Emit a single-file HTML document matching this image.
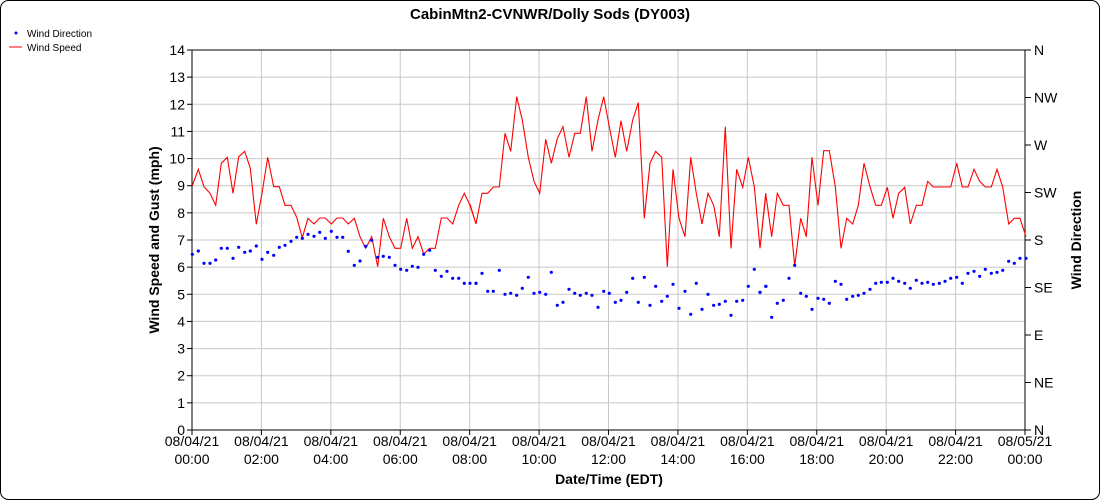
<!DOCTYPE html>
<html><head><meta charset="utf-8"><style>
body{margin:0;background:#fff;}
svg{display:block;font-family:"Liberation Sans",sans-serif;}
</style></head><body>
<svg id="c" width="1100" height="500" xmlns="http://www.w3.org/2000/svg">
<rect x="0.5" y="0.5" width="1099" height="499" rx="8" fill="#fff" stroke="#000"/>
<text x="550" y="19" font-size="15" font-weight="bold" text-anchor="middle">CabinMtn2-CVNWR/Dolly Sods (DY003)</text>
<circle cx="16" cy="33" r="1.5" fill="#00f"/>
<text x="27" y="37" font-size="10">Wind Direction</text>
<line x1="9" y1="47" x2="22" y2="47" stroke="red"/>
<text x="27" y="51" font-size="10">Wind Speed</text>
<g id="grid"></g>
<rect x="192" y="50" width="833" height="380" fill="none" stroke="#000"/>
<polyline id="red" fill="none" stroke="red" stroke-width="1.1"/>
<g id="blue" fill="#00f"></g>
<g id="labels" font-size="14"></g>
<text transform="translate(159,240) rotate(-90)" font-size="14" font-weight="bold" text-anchor="middle">Wind Speed and Gust (mph)</text>
<text transform="translate(1081,240) rotate(-90)" font-size="14" font-weight="bold" text-anchor="middle">Wind Direction</text>
<text x="609" y="484" font-size="14" font-weight="bold" text-anchor="middle">Date/Time (EDT)</text>
</svg>
<script>
var NS="http://www.w3.org/2000/svg";
function el(t,a,p,txt){var e=document.createElementNS(NS,t);for(var k in a)e.setAttribute(k,a[k]);if(txt!=null)e.textContent=txt;document.getElementById(p).appendChild(e);return e;}
var L=192,R=1025,T=50,B=430;
for(var i=0;i<=14;i++){var y=B-i*(380/14);
 if(i>0&&i<14)el('line',{x1:L,x2:R,y1:y,y2:y,stroke:'#c8c8c8'},'grid');
 el('line',{x1:L-5,x2:L,y1:y,y2:y,stroke:'#000'},'grid');
 el('text',{x:L-7,y:y+5,'text-anchor':'end'},'labels',String(i));}
var dirs=['N','NE','E','SE','S','SW','W','NW','N'];
for(var i=0;i<=8;i++){var y=B-i*47.5;
 el('line',{x1:R,x2:R+6,y1:y,y2:y,stroke:'#000'},'grid');
 el('text',{x:R+9,y:y+5},'labels',dirs[i]);}
var times=['00:00','02:00','04:00','06:00','08:00','10:00','12:00','14:00','16:00','18:00','20:00','22:00','00:00'];
for(var i=0;i<=12;i++){var x=L+i*(833/12);
 if(i>0&&i<12)el('line',{x1:x,x2:x,y1:T,y2:B,stroke:'#c8c8c8'},'grid');
 el('line',{x1:x,x2:x,y1:B,y2:B+5,stroke:'#000'},'grid');
 el('text',{x:x,y:446,'text-anchor':'middle'},'labels',i==12?'08/05/21':'08/04/21');
 el('text',{x:x,y:464,'text-anchor':'middle'},'labels',times[i]);}
var r1=[[37,437],[55,388],[72,440],[90,460],[107,496],[124,370],[142,352],[159,460],[176,350],[194,334],[211,385],[229,553],[246,460],[263,352],[281,440],[298,440],[315,496],[333,496],[350,532],[367,593],[384,535],[402,552],[419,534],[436,534],[454,552],[471,534],[488,534],[505,552],[523,535],[540,590],[557,625],[575,590],[593,680],[610,535],[628,590],[645,625],[662,625],[680,535],[697,625],[714,590],[731,642],[749,625],[766,625],[784,534],[801,534],[818,552],[836,496],[853,460],[870,496],[888,552]];
var r2=[[0,492],[18,552],[36,460],[53,460],[70,441],[88,441],[105,280],[122,334],[140,170],[157,240],[175,352],[192,424],[209,460],[227,298],[244,370],[262,296],[279,260],[297,352],[314,280],[331,280],[349,170],[366,334],[384,240],[401,170],[418,260],[436,352],[453,242],[470,334],[488,240],[505,188],[523,535],[540,370],[557,334],[575,352],[592,680],[609,388],[627,535],[645,590],[662,352],[679,460],[696,552],[714,460],[731,496],[748,590],[766,260],[783,625],[800,388],[818,442],[835,352],[853,440],[870,625],[888,460]];
var r3=[[0,625],[17,460],[35,590],[52,460],[70,496],[87,496],[104,678],[122,535],[139,590],[156,352],[174,496],[191,332],[208,332],[226,440],[243,625],[260,535],[278,552],[295,496],[312,370],[330,440],[347,496],[364,496],[382,442],[399,535],[416,460],[434,442],[451,552],[469,496],[486,496],[503,424],[520,441],[538,441],[555,441],[572,441],[590,370],[607,441],[624,441],[642,388],[659,424],[676,441],[694,441],[711,388],[728,441],[746,552],[763,535],[780,535],[798,590]];
var b1=[[37,643],[55,633],[72,670],[90,670],[107,660],[124,625],[142,625],[159,655],[176,622],[194,637],[211,633],[229,618],[246,658],[263,637],[281,646],[298,622],[315,616],[333,604],[350,592],[367,595],[384,583],[402,589],[419,577],[436,595],[454,574],[471,592],[488,592],[505,634],[523,676],[540,663],[557,619],[575,601],[593,652],[610,649],[628,652],[645,676],[662,688],[680,691],[697,679],[714,682],[731,643],[749,631],[766,691],[784,709],[801,694],[818,715],[836,715],[853,730],[870,730],[888,730]];
var b2=[[18,730],[36,700],[53,754],[70,754],[88,691],[105,763],[122,760],[140,766],[157,745],[175,712],[192,760],[209,757],[227,763],[244,697],[262,796],[279,787],[297,748],[314,760],[331,766],[349,760],[366,766],[384,802],[401,754],[418,760],[436,787],[453,781],[470,757],[488,715],[505,787],[523,712],[540,796],[557,739],[575,784],[592,769],[609,733],[627,805],[645,754],[662,823],[679,730],[696,808],[714,763],[731,796],[748,793],[766,784],[783,826],[800,784],[818,781],[835,739],[853,688],[870,757],[888,739]];
var b3=[[0,757],[17,739],[35,832],[52,790],[70,781],[87,715],[104,676],[122,760],[139,769],[156,808],[174,775],[191,778],[208,790],[226,724],[243,733],[260,778],[278,769],[295,766],[312,760],[330,748],[347,730],[364,727],[382,727],[399,715],[416,724],[434,730],[451,745],[469,721],[486,730],[503,727],[520,733],[538,730],[555,724],[572,715],[590,712],[607,730],[624,700],[642,694],[659,709],[676,688],[694,700],[711,697],[728,691],[746,664],[763,670],[780,655],[798,655]];
function conv(a,ox){return a.map(function(p){return [(ox+p[0]/3).toFixed(1),(40+p[1]/3).toFixed(1)];});}
var red=conv(r1,180).concat(conv(r2,470),conv(r3,760));
document.getElementById('red').setAttribute('points',red.map(function(p){return p.join(',');}).join(' '));
conv(b1,180).concat(conv(b2,470),conv(b3,760)).forEach(function(p){el('circle',{cx:p[0],cy:p[1],r:1.6},'blue');});
</script>
</body></html>
